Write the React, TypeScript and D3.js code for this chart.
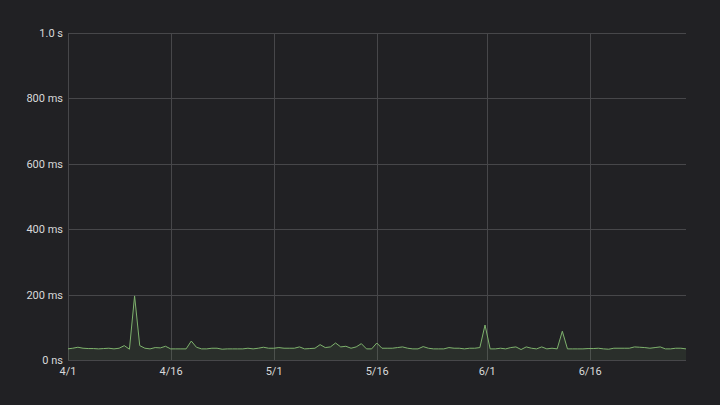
import { useEffect, useRef } from "react";
import * as d3 from "d3";

// latency samples, one every 18 hours, starting just before 4/1
const startTime = new Date(2019, 2, 31, 22, 34);
const stepHours = 18;
const latencyMs = [
  34, 36, 39, 36, 35, 35, 34, 35, 36, 34, 36, 44, 33, 196, 44, 36, 34, 38, 37, 42,
  34, 34, 34, 34, 58, 39, 34, 34, 36, 36, 33, 34, 34, 34, 34, 36, 34, 36, 39, 36,
  36, 38, 36, 36, 36, 40, 34, 35, 36, 47, 38, 40, 52, 40, 42, 36, 40, 50, 34, 34,
  52, 36, 36, 36, 38, 40, 36, 34, 34, 41, 36, 34, 34, 34, 38, 36, 36, 34, 36, 36,
  38, 107, 34, 34, 36, 34, 38, 40, 32, 40, 36, 34, 40, 34, 36, 34, 88, 34, 34, 34,
  34, 35, 35, 36, 34, 33, 36, 36, 36, 36, 40, 39, 38, 36, 38, 40, 34, 34, 36, 36,
  34,
];
const xTickDates = [
  new Date(2019, 3, 1),
  new Date(2019, 3, 16),
  new Date(2019, 4, 1),
  new Date(2019, 4, 16),
  new Date(2019, 5, 1),
  new Date(2019, 5, 16),
];
const yTickValues = [0, 200, 400, 600, 800, 1000];
const yTickLabels = ["0 ns", "200 ms", "400 ms", "600 ms", "800 ms", "1.0 s"];

export default function App() {
  const ref = useRef<SVGSVGElement | null>(null);

  useEffect(() => {
    if (!ref.current) return;
    const width = 720;
    const height = 405;
    const margin = { top: 33, right: 34, bottom: 45, left: 68 };

    const svg = d3.select(ref.current);
    svg.selectAll("*").remove();
    svg.attr("width", width).attr("height", height);

    svg.append("rect").attr("width", width).attr("height", height).attr("fill", "#212124");

    const data = latencyMs.map((v, i) => ({
      t: new Date(startTime.getTime() + i * stepHours * 3600 * 1000),
      v,
    }));

    // x axis starts on 4/1 and ends at the last sample
    const x = d3
      .scaleTime()
      .domain([xTickDates[0], data[data.length - 1].t])
      .range([margin.left, width - margin.right]);

    const y = d3
      .scaleLinear()
      .domain([0, 1000])
      .range([height - margin.bottom, margin.top]);

    const grid = svg.append("g").attr("stroke", "#47474a").attr("stroke-width", 1);
    grid
      .selectAll("line.h")
      .data(yTickValues)
      .enter()
      .append("line")
      .attr("x1", margin.left)
      .attr("x2", width - margin.right)
      .attr("y1", (d) => Math.round(y(d)) + 0.5)
      .attr("y2", (d) => Math.round(y(d)) + 0.5);
    grid
      .selectAll("line.v")
      .data(xTickDates)
      .enter()
      .append("line")
      .attr("x1", (d) => Math.round(x(d)) + 0.5)
      .attr("x2", (d) => Math.round(x(d)) + 0.5)
      .attr("y1", margin.top)
      .attr("y2", height - margin.bottom);

    svg
      .append("clipPath")
      .attr("id", "plot-clip")
      .append("rect")
      .attr("x", margin.left)
      .attr("y", margin.top)
      .attr("width", width - margin.left - margin.right)
      .attr("height", height - margin.top - margin.bottom);

    const area = d3
      .area<{ t: Date; v: number }>()
      .x((d) => x(d.t))
      .y0(y(0))
      .y1((d) => y(d.v));
    const line = d3
      .line<{ t: Date; v: number }>()
      .x((d) => x(d.t))
      .y((d) => y(d.v));

    const plot = svg.append("g").attr("clip-path", "url(#plot-clip)");
    plot
      .append("path")
      .datum(data)
      .attr("d", area)
      .attr("fill", "rgba(126,178,109,0.1)");
    plot
      .append("path")
      .datum(data)
      .attr("d", line)
      .attr("fill", "none")
      .attr("stroke", "#7eb26d")
      .attr("stroke-width", 1);

    const font = "Roboto, sans-serif";
    svg
      .append("g")
      .selectAll("text")
      .data(yTickValues)
      .enter()
      .append("text")
      .attr("x", margin.left - 5)
      .attr("y", (d) => y(d) + 4)
      .attr("text-anchor", "end")
      .attr("font-family", font)
      .attr("font-size", 11)
      .attr("fill", "#d8d9da")
      .text((d, i) => yTickLabels[i]);

    svg
      .append("g")
      .selectAll("text")
      .data(xTickDates)
      .enter()
      .append("text")
      .attr("x", (d) => x(d))
      .attr("y", height - margin.bottom + 15)
      .attr("text-anchor", "middle")
      .attr("font-family", font)
      .attr("font-size", 11)
      .attr("fill", "#d8d9da")
      .text((d) => `${d.getMonth() + 1}/${d.getDate()}`);
  }, []);

  return <svg ref={ref} style={{ position: "absolute", left: 0, top: 0 }}></svg>;
}
